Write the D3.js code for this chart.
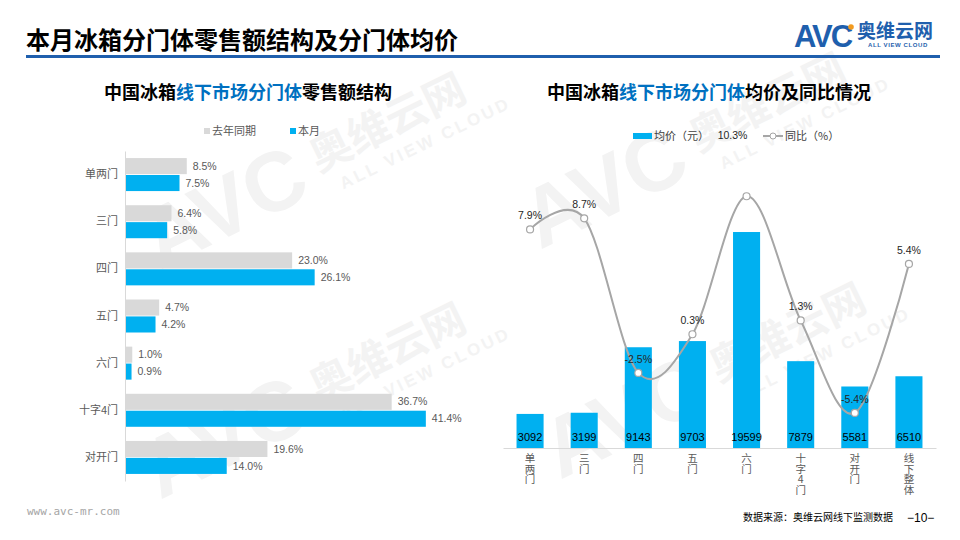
<!DOCTYPE html>
<html><head><meta charset="utf-8">
<script src="https://cdn.jsdelivr.net/npm/d3@7/dist/d3.min.js"></script>
<style>body{margin:0;background:#fff}svg{display:block}</style>
</head><body>
<script>
const leftCategories = ["单两门","三门","四门","五门","六门","十字4门","对开门"];
const lastYearShare = [8.5,6.4,23.0,4.7,1.0,36.7,19.6];
const thisMonthShare = [7.5,5.8,26.1,4.2,0.9,41.4,14.0];
const leftSeries = ["去年同期","本月"];
const rightCategories = ["单两门","三门","四门","五门","六门","十字4门","对开门","线下整体"];
const avgPrice = [3092,3199,9143,9703,19599,7879,5581,6510];
const yoyChange = [7.9,8.7,-2.5,0.3,10.3,1.3,-5.4,5.4];
const rightSeries = ["均价（元）","同比（%）"];

const W=960,H=540;
const FONT='"Noto Sans CJK SC","Liberation Sans",sans-serif';
const NUMFONT='"Liberation Sans","Noto Sans CJK SC",sans-serif';
const svg=d3.select("body").append("svg").attr("width",W).attr("height",H).style("font-family",FONT);

// watermarks
function watermark(x,y,ang){
  const g=svg.append("g").attr("transform",`translate(${x},${y}) rotate(${ang})`).attr("fill","#F3F3F3");
  g.append("text").attr("x",0).attr("y",0).attr("font-size",84).attr("font-weight","bold").attr("font-family",NUMFONT).text("AVC");
  g.append("text").attr("x",185).attr("y",-18).attr("font-size",42).attr("font-weight","bold").text("奥维云网");
  g.append("text").attr("x",200).attr("y",8).attr("font-size",17).attr("font-weight","bold").attr("font-family",NUMFONT).attr("letter-spacing",3).text("ALL VIEW CLOUD");
}
watermark(160,270,-26);
watermark(160,500,-26);
watermark(540,250,-26);
watermark(560,480,-26);

// header
svg.append("text").attr("x",26).attr("y",49).attr("font-size",24).attr("font-weight","bold").attr("fill","#000").text("本月冰箱分门体零售额结构及分门体均价");
svg.append("rect").attr("x",26).attr("y",55).attr("width",914).attr("height",3).attr("fill","#1F5FAD");
// logo
const logo=svg.append("g");
logo.append("text").attr("x",794).attr("y",47).attr("font-size",31).attr("font-weight","bold").attr("font-family",NUMFONT).attr("fill","#1F5FAD").attr("letter-spacing",-2).text("AVC");
logo.append("circle").attr("cx",851).attr("cy",27).attr("r",2.8).attr("fill","#F39A1E");
logo.append("text").attr("x",857).attr("y",38).attr("font-size",19).attr("font-weight","bold").attr("fill","#1F5FAD").text("奥维云网");
logo.append("text").attr("x",868).attr("y",47).attr("font-size",6).attr("font-weight","bold").attr("font-family",NUMFONT).attr("fill","#1F5FAD").attr("letter-spacing",0.6).text("ALL VIEW CLOUD");

// subtitles
function subtitle(x,parts){
  const t=svg.append("text").attr("x",x).attr("y",99).attr("font-size",18).attr("font-weight","bold");
  parts.forEach(p=>t.append("tspan").attr("fill",p[1]).text(p[0]));
}
subtitle(104,[["中国冰箱","#000"],["线下市场分门体","#0070C0"],["零售额结构","#000"]]);
subtitle(547,[["中国冰箱","#000"],["线下市场分门体","#0070C0"],["均价及同比情况","#000"]]);

// ---------- left chart ----------
const GRAY="#D9D9D9",BLUE="#00B0F0";
const xL=d3.scaleLinear().domain([0,45]).range([125,452]);
const yL=d3.scaleBand().domain(leftCategories).range([151,481]).paddingInner(0.3).paddingOuter(0.15);
const ySub=d3.scaleBand().domain(leftSeries).range([0,yL.bandwidth()]).paddingInner(0.05);
const leftData=leftCategories.map((c,i)=>({c,vals:[lastYearShare[i],thisMonthShare[i]]}));
const gL=svg.append("g");
const grp=gL.selectAll("g.cat").data(leftData).join("g").attr("transform",d=>`translate(0,${yL(d.c)})`);
grp.selectAll("rect").data(d=>d.vals.map((v,j)=>({s:leftSeries[j],v}))).join("rect")
  .attr("x",xL(0)).attr("y",d=>ySub(d.s)).attr("height",ySub.bandwidth())
  .attr("width",d=>xL(d.v)-xL(0)).attr("fill",d=>d.s==="本月"?BLUE:GRAY);
grp.selectAll("text").data(d=>d.vals.map((v,j)=>({s:leftSeries[j],v}))).join("text")
  .attr("x",d=>xL(d.v)+6).attr("y",d=>ySub(d.s)+ySub.bandwidth()/2).attr("dy","0.35em")
  .attr("font-size",10.5).attr("fill","#595959").attr("font-family",NUMFONT).text(d=>d.v.toFixed(1)+"%");
const axL=gL.append("g").attr("transform",`translate(${xL(0)},0)`).call(d3.axisLeft(yL).tickSize(0).tickPadding(7));
axL.select(".domain").attr("stroke","#D9D9D9");
axL.selectAll("text").attr("font-size",11).attr("fill","#595959").attr("font-family",FONT);
// left legend
const legL=svg.append("g");
[[204,0],[290,1]].forEach(([x,j])=>{
  legL.append("rect").attr("x",x).attr("y",128).attr("width",6).attr("height",6).attr("fill",j?BLUE:GRAY);
  legL.append("text").attr("x",x+8).attr("y",131).attr("dy","0.35em").attr("font-size",11).attr("fill","#595959").text(leftSeries[j]);
});

// ---------- right chart ----------
const xR=d3.scaleBand().domain(rightCategories).range([503,936]).paddingInner(0.5).paddingOuter(0.25);
const yR=d3.scaleLinear().domain([0,20000]).range([448,227.6]);
const yR2=d3.scaleLinear().domain([-8,12]).range([448.8,172.8]);
const gR=svg.append("g");
gR.selectAll("rect.bar").data(rightCategories).join("rect").attr("class","bar")
  .attr("x",d=>xR(d)).attr("width",xR.bandwidth())
  .attr("y",(d,i)=>yR(avgPrice[i])).attr("height",(d,i)=>yR(0)-yR(avgPrice[i])).attr("fill",BLUE);
gR.selectAll("text.bv").data(rightCategories).join("text").attr("class","bv")
  .attr("x",d=>xR(d)+xR.bandwidth()/2).attr("y",441).attr("text-anchor","middle")
  .attr("font-size",11).attr("fill","#000").attr("font-family",NUMFONT).text((d,i)=>avgPrice[i]);
const axR=gR.append("g").attr("transform",`translate(0,${yR(0)})`).call(d3.axisBottom(xR).tickSize(0).tickFormat(""));
axR.select(".domain").attr("stroke","#D9D9D9");
// vertical category labels
gR.selectAll("text.xl").data(rightCategories).join("text").attr("class","xl")
  .attr("x",d=>xR(d)+xR.bandwidth()/2).attr("y",453)
  .style("writing-mode","vertical-rl").style("text-orientation","upright")
  .attr("font-size",10.5).attr("fill","#595959").text(d=>d);
// line
const pts=rightCategories.map((c,i)=>[xR(c)+xR.bandwidth()/2,yR2(yoyChange[i])]);
gR.append("path").attr("d",d3.line().curve(d3.curveCardinal.tension(0))(pts))
  .attr("fill","none").attr("stroke","#A6A6A6").attr("stroke-width",2);
gR.selectAll("circle.pt").data(pts).join("circle").attr("class","pt")
  .attr("cx",d=>d[0]).attr("cy",d=>d[1]).attr("r",3.5).attr("fill","#fff").attr("stroke","#A6A6A6").attr("stroke-width",1.2);
gR.selectAll("text.lv").data(pts).join("text").attr("class","lv")
  .attr("x",(d,i)=>i===4?d[0]-14:d[0])
  .attr("y",(d,i)=>i===4?d[1]-57:d[1]-10)
  .attr("text-anchor","middle").attr("font-size",10.5).attr("fill","#262626").attr("font-family",NUMFONT)
  .text((d,i)=>yoyChange[i].toFixed(1)+"%");
// right legend
const legR=svg.append("g");
legR.append("rect").attr("x",633).attr("y",133).attr("width",19).attr("height",6).attr("fill",BLUE);
legR.append("text").attr("x",654).attr("y",136).attr("dy","0.35em").attr("font-size",11).attr("fill","#404040").text(rightSeries[0]);
legR.append("line").attr("x1",763).attr("x2",783).attr("y1",136).attr("y2",136).attr("stroke","#A6A6A6").attr("stroke-width",2);
legR.append("circle").attr("cx",773).attr("cy",136).attr("r",3).attr("fill","#fff").attr("stroke","#A6A6A6");
legR.append("text").attr("x",785).attr("y",136).attr("dy","0.35em").attr("font-size",11).attr("fill","#404040").text(rightSeries[1]);

// footer
svg.append("text").attr("x",27).attr("y",515).attr("font-size",11).attr("fill","#A6A6A6").attr("font-family",'"DejaVu Sans Mono","Liberation Mono",monospace').text("www.avc-mr.com");
svg.append("text").attr("x",743).attr("y",521).attr("font-size",10).attr("fill","#000").text("数据来源：奥维云网线下监测数据");
svg.append("text").attr("x",907).attr("y",522).attr("font-size",12).attr("fill","#000").attr("font-family",NUMFONT).text("−10−");
</script>
</body></html>
